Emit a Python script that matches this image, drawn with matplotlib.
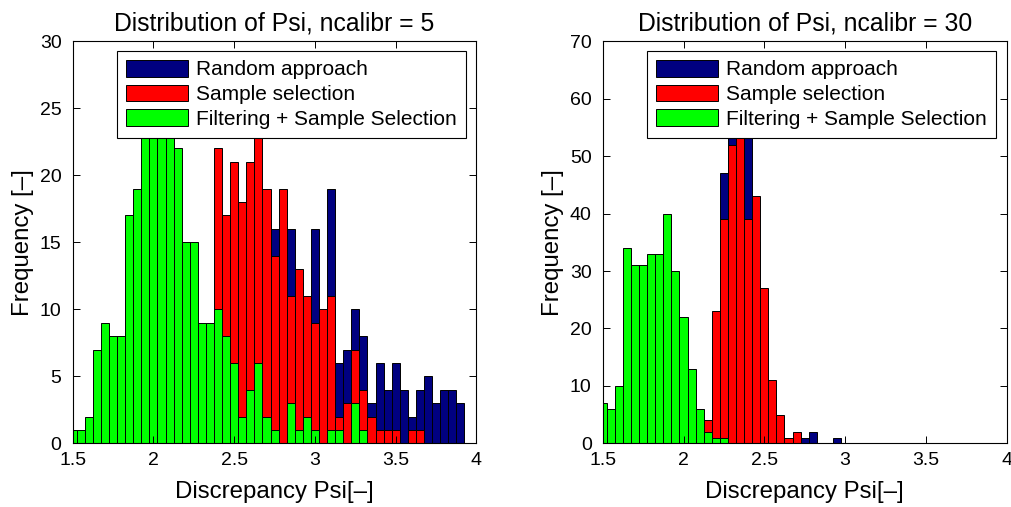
import numpy as np
import matplotlib.pyplot as plt

plt.rcParams['font.family'] = ['Liberation Sans', 'DejaVu Sans']

# histogram bin centres (same bins for every series)
bin_centers = np.round(np.arange(1.5, 3.9001, 0.05), 2)
bin_width = 0.05

labels = ['Random approach', 'Sample selection', 'Filtering + Sample Selection']
titles = ['Distribution of Psi, ncalibr = 5', 'Distribution of Psi, ncalibr = 30']

# ncalibr = 5
random_5 = [0, 0, 0, 0, 0, 0, 0, 0, 0, 0, 0, 0, 0, 0, 0, 0, 0, 2, 3, 5,
            6, 9, 10, 12, 13, 16, 15, 16, 12, 10, 16, 9, 19, 6, 7, 10, 8, 3, 6, 4,
            6, 4, 2, 4, 5, 3, 4, 4, 3]
sample_5 = [0, 0, 0, 0, 0, 0, 0, 0, 0, 0, 0, 0, 0, 0, 0, 0, 0, 0, 22, 17,
            21, 18, 21, 24, 19, 14, 19, 11, 13, 11, 9, 10, 11, 2, 3, 7, 4, 2, 1, 1,
            1, 0, 1, 1, 0, 0, 0, 0, 0]
filter_5 = [1, 1, 2, 7, 9, 8, 8, 17, 19, 25, 27, 27, 24, 22, 15, 15, 9, 9, 10, 8,
            6, 2, 4, 6, 2, 1, 0, 3, 1, 2, 1, 0, 1, 1, 0, 3, 1, 0, 0, 0,
            0, 0, 0, 0, 0, 0, 0, 0, 0]

# ncalibr = 30
random_30 = [0, 0, 0, 0, 0, 0, 0, 0, 0, 0, 0, 0, 0, 3, 15, 47, 55, 58, 55, 35,
             20, 8, 4, 1, 1, 1, 2, 0, 0, 1, 0, 0, 0, 0, 0, 0, 0, 0, 0, 0,
             0, 0, 0, 0, 0, 0, 0, 0, 0]
sample_30 = [0, 0, 0, 0, 0, 0, 0, 0, 0, 0, 0, 0, 0, 4, 23, 39, 52, 62, 39, 43,
             27, 11, 5, 1, 2, 0, 0, 0, 0, 0, 0, 0, 0, 0, 0, 0, 0, 0, 0, 0,
             0, 0, 0, 0, 0, 0, 0, 0, 0]
filter_30 = [7, 6, 10, 34, 31, 31, 33, 33, 40, 30, 22, 13, 6, 2, 1, 1, 0, 0, 0, 0,
             0, 0, 0, 0, 0, 0, 0, 0, 0, 0, 0, 0, 0, 0, 0, 0, 0, 0, 0, 0,
             0, 0, 0, 0, 0, 0, 0, 0, 0]

colors = ['#000080', '#ff0000', '#00ff00']

fig = plt.figure(figsize=(10.12, 5.07), dpi=100)
ax1 = fig.add_axes([0.0718, 0.1256, 0.399, 0.793])
ax2 = fig.add_axes([0.5956, 0.1256, 0.399, 0.793])

panels = [
    (ax1, [random_5, sample_5, filter_5], 30, 5, titles[0]),
    (ax2, [random_30, sample_30, filter_30], 70, 10, titles[1]),
]

for ax, series, ymax, ystep, title in panels:
    # bars overlap: blue drawn first, then red, then green on top
    for vals, c, lab in zip(series, colors, labels):
        ax.bar(bin_centers, vals, width=bin_width, color=c, edgecolor='black',
               linewidth=0.7, label=lab)
    ax.set_xlim(1.5, 4)
    ax.set_ylim(0, ymax)
    ax.set_xticks([1.5, 2, 2.5, 3, 3.5, 4])
    ax.set_xticklabels(['1.5', '2', '2.5', '3', '3.5', '4'])
    ax.set_yticks(np.arange(0, ymax + 1, ystep))
    ax.tick_params(direction='in', top=True, right=True, labelsize=14, length=5, width=0.7)
    ax.tick_params(axis='x', pad=6)
    ax.tick_params(axis='y', pad=8)
    for s in ax.spines.values():
        s.set_linewidth(0.8)
    ax.set_title(title, fontsize=17.8, pad=8)
    ax.set_xlabel('Discrepancy Psi[–]', fontsize=17.3, labelpad=9)
    ax.set_ylabel('Frequency [–]', fontsize=17.3, labelpad=4)
    leg = ax.legend(loc='upper right', bbox_to_anchor=(0.9735, 0.976), borderaxespad=0,
                    fontsize=15, fancybox=False, framealpha=1, edgecolor='black',
                    handlelength=3.0, handleheight=0.87, handletextpad=0.38,
                    borderpad=0.42, labelspacing=0.25)
    leg.get_frame().set_linewidth(0.8)

fig.savefig('out.png', dpi=100)
